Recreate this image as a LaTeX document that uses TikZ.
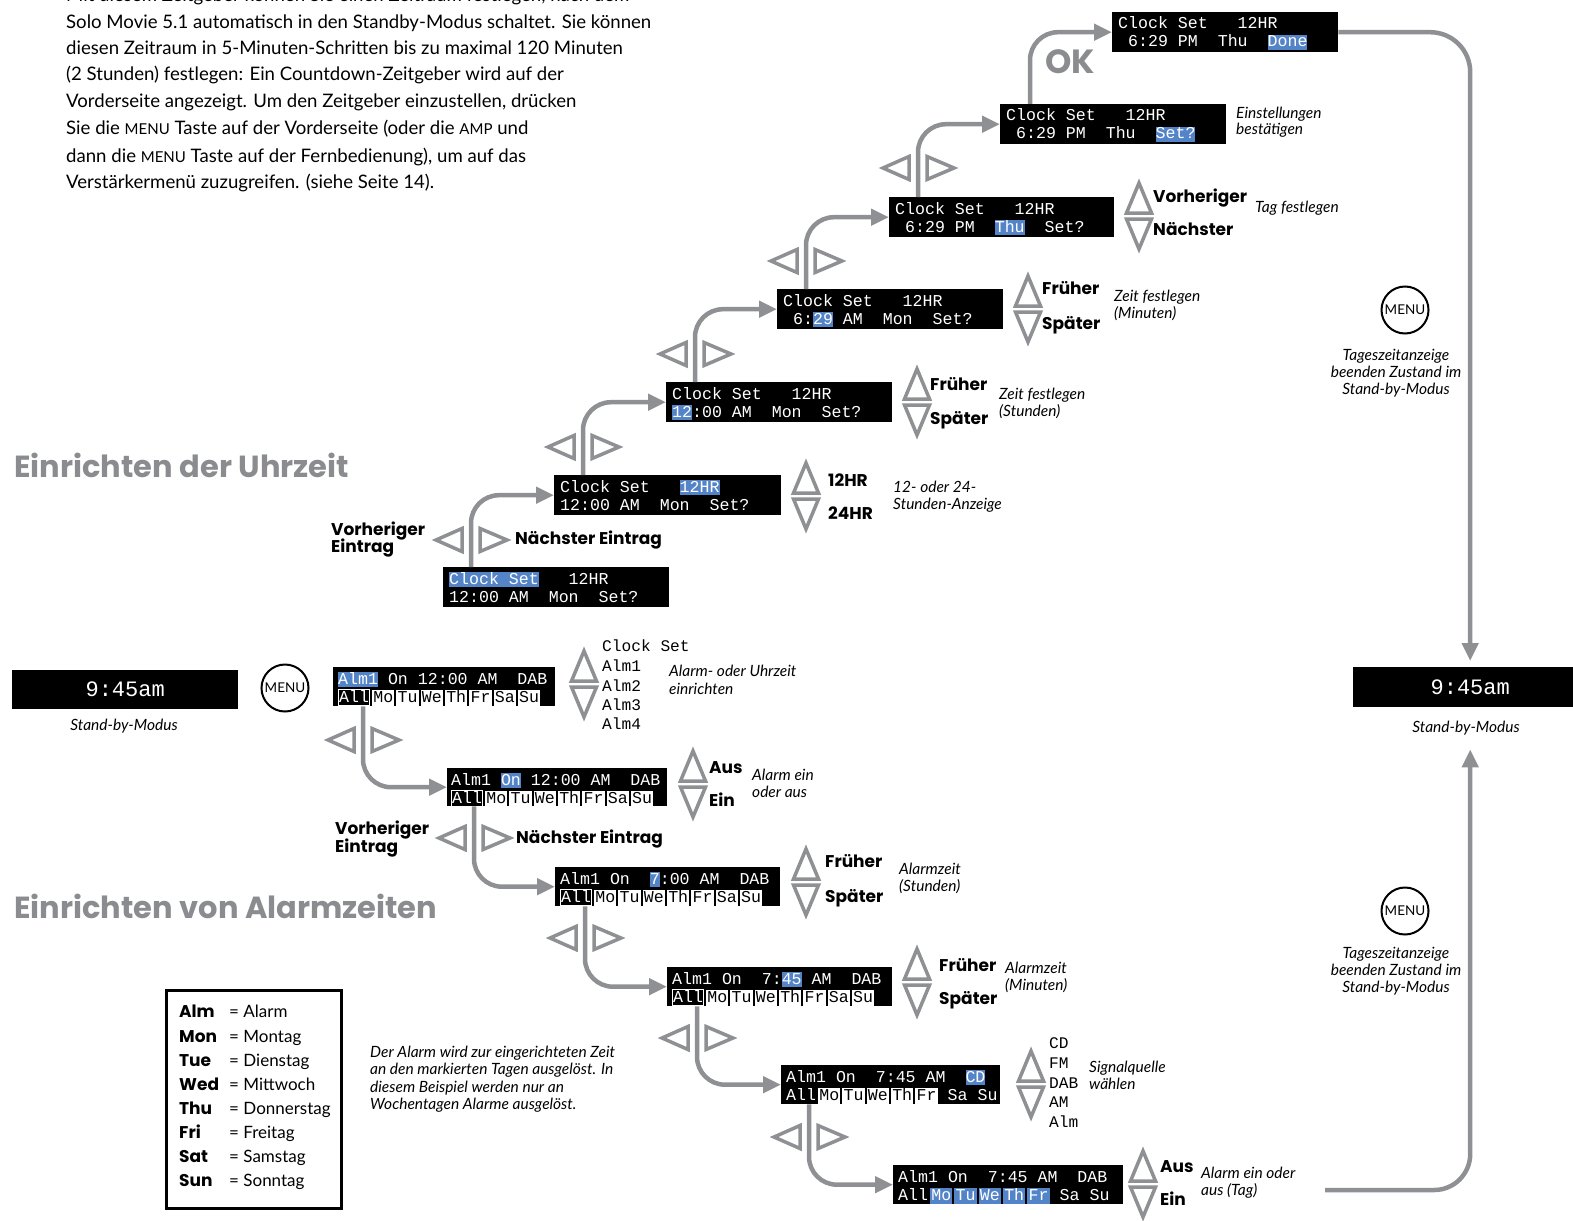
\documentclass[tikz,border=0pt]{standalone}
\usepackage{fontspec}
\setmainfont{Lato}
\newfontfamily\dispfont{Liberation Mono}
\newfontfamily\heavyfont{Poppins}
\usetikzlibrary{arrows.meta,calc}
\definecolor{lgray}{RGB}{142,144,147}
\definecolor{hgray}{RGB}{138,140,143}
\definecolor{hlblue}{RGB}{84,132,200}
\newcommand\dhl[1]{{\setlength\fboxsep{0pt}\colorbox{hlblue}{\rule[-3pt]{0pt}{15pt}#1}}}
\newcommand\dwc[1]{\hspace{2pt}{\setlength\fboxsep{0pt}\colorbox{white}{\rule[-3.5pt]{0pt}{16pt}\hspace{1.2pt}\textcolor{black}{#1}\hspace{1.2pt}}}}
\newcommand\dbc[1]{\hspace{2pt}{\setlength\fboxsep{0pt}\colorbox{hlblue}{\rule[-3.5pt]{0pt}{16pt}\hspace{1.2pt}#1\hspace{1.2pt}}}}
\newcommand\dall{{\setlength\fboxsep{0pt}\setlength\fboxrule{1pt}\fcolorbox{white}{black}{\rule[-2.5pt]{0pt}{14.5pt}All}}}
\newcommand\lrpair[2]{%
 \draw[tri] (#1-35,#2) -- (#1-9,#2-11.5) -- (#1-9,#2+11.5) -- cycle;
 \draw[tri] (#1+36,#2) -- (#1+9,#2-11.5) -- (#1+9,#2+11.5) -- cycle;}
\newcommand\udpair[2]{%
 \draw[tri] (#1,#2-32) -- (#1+12.5,#2-2) -- (#1-12.5,#2-2) -- cycle;
 \draw[tri] (#1,#2+34) -- (#1+12.5,#2+4) -- (#1-12.5,#2+4) -- cycle;}
\tikzset{
 disp/.style={fill=black, draw=none, inner sep=0pt, anchor=north west, minimum height=40pt},
 mono/.style={font=\dispfont\fontsize{16.6}{19}\selectfont, text=white, anchor=base west, inner sep=0pt},
 monob/.style={font=\dispfont\fontsize{16.2}{19}\selectfont, text=black, anchor=base west, inner sep=0pt},
 big/.style={font=\dispfont\fontsize{22}{26}\selectfont, text=white, inner sep=0pt},
 conn/.style={draw=lgray, line width=4.5pt, rounded corners=28pt, -{Triangle[length=18pt,width=16pt]}},
 tri/.style={draw=lgray, line width=3.5pt, line join=miter},
 lbl/.style={font=\heavyfont\fontsize{17}{20}\selectfont\bfseries, anchor=base west, inner sep=0pt},
 itl/.style={font=\fontsize{15.5}{18}\selectfont\itshape, anchor=base west, inner sep=0pt},
 itc/.style={font=\fontsize{15.5}{18}\selectfont\itshape, anchor=base, inner sep=0pt},
 body/.style={font=\fontsize{18.6}{20}\selectfont, anchor=base west, inner sep=0pt},
 leg/.style={font=\fontsize{17}{20}\selectfont, anchor=base west, inner sep=0pt},
 legb/.style={font=\heavyfont\fontsize{17}{20}\selectfont\bfseries, anchor=base west, inner sep=0pt},
 head/.style={font=\heavyfont\fontsize{30.5}{34}\selectfont\bfseries, text=hgray, anchor=base west, inner sep=0pt},
 menu/.style={circle, draw, line width=2pt, minimum size=47pt, inner sep=0pt, font=\fontsize{13.5}{14}\selectfont},
}
\newcommand\dtext[4]{%
 \node[mono] (#1l1) at ($(#1.north west)+(#4,17)$) {#2};
 \node[mono] (#1l2) at ($(#1.north west)+(#4,35)$) {#3};}
\begin{document}
\begin{tikzpicture}[x=1pt,y=-1pt]
\useasboundingbox (0,0) rectangle (1573,1220);

% top paragraph
\node[body] (p0) at (66,2) {Mit diesem Zeitgeber können Sie einen Zeitraum festlegen, nach dem};
\node[body] (p1) at (66,29) {Solo Movie 5.1 automatisch in den Standby-Modus schaltet. Sie können};
\node[body] (p2) at (66,55) {diesen Zeitraum in 5-Minuten-Schritten bis zu maximal 120 Minuten};
\node[body] (p3) at (66,81) {(2 Stunden) festlegen: Ein Countdown-Zeitgeber wird auf der};
\node[body] (p4) at (66,108) {Vorderseite angezeigt. Um den Zeitgeber einzustellen, drücken};
\node[body] (p5) at (66,135) {Sie die {\fontsize{15}{16}\selectfont MENU} Taste auf der Vorderseite (oder die {\fontsize{15}{16}\selectfont AMP} und};
\node[body] (p6) at (66,162) {dann die {\fontsize{15}{16}\selectfont MENU} Taste auf der Fernbedienung), um auf das};
\node[body] (p7) at (66,188) {Verstärkermenü zuzugreifen. (siehe Seite 14).};

% headings
\node[head] (H1) at (14,477) {Einrichten der Uhrzeit};
\node[head] (H2) at (14,918) {Einrichten von Alarmzeiten};

% clock displays
\node[disp,minimum width=226pt] (D1) at (443,567) {};
\node[disp,minimum width=227pt] (D2) at (554,475) {};
\node[disp,minimum width=226pt] (D3) at (666,382) {};
\node[disp,minimum width=226pt] (D4) at (777,289) {};
\node[disp,minimum width=225pt] (D5) at (889,197) {};
\node[disp,minimum width=226pt] (D6) at (1000,104) {};
\node[disp,minimum width=226pt] (D7) at (1112,12) {};
\dtext{D1}{\dhl{Clock~Set}~~~12HR}{12:00~AM~~Mon~~Set?}{6}
\dtext{D2}{Clock~Set~~~\dhl{12HR}}{12:00~AM~~Mon~~Set?}{6}
\dtext{D3}{Clock~Set~~~12HR}{\dhl{12}:00~AM~~Mon~~Set?}{6}
\dtext{D4}{Clock~Set~~~12HR}{~6:\dhl{29}~AM~~Mon~~Set?}{6}
\dtext{D5}{Clock~Set~~~12HR}{~6:29~PM~~\dhl{Thu}~~Set?}{6}
\dtext{D6}{Clock~Set~~~12HR}{~6:29~PM~~Thu~~\dhl{Set?}}{6}
\dtext{D7}{Clock~Set~~~12HR}{~6:29~PM~~Thu~~\dhl{Done}}{6}

% alarm displays
\node[disp,minimum width=222pt,minimum height=39pt] (A1) at (333,667) {};
\node[disp,minimum width=220pt,minimum height=38pt] (A2) at (447,768) {};
\node[disp,minimum width=225pt,minimum height=39pt] (A3) at (555,867) {};
\node[disp,minimum width=225pt,minimum height=39pt] (A4) at (667,967) {};
\node[disp,minimum width=219pt,minimum height=39pt] (A5) at (781,1065) {};
\node[disp,minimum width=230pt,minimum height=39pt] (A6) at (893,1165) {};
\dtext{A1}{\dhl{Alm1}~On~12:00~AM~~DAB}{\dall\dwc{Mo}\dwc{Tu}\dwc{We}\dwc{Th}\dwc{Fr}\dwc{Sa}\dwc{Su}}{5}
\dtext{A2}{Alm1~\dhl{On}~12:00~AM~~DAB}{\dall\dwc{Mo}\dwc{Tu}\dwc{We}\dwc{Th}\dwc{Fr}\dwc{Sa}\dwc{Su}}{4}
\dtext{A3}{Alm1~On~~\dhl{7}:00~AM~~DAB}{\dall\dwc{Mo}\dwc{Tu}\dwc{We}\dwc{Th}\dwc{Fr}\dwc{Sa}\dwc{Su}}{5}
\dtext{A4}{Alm1~On~~7:\dhl{45}~AM~~DAB}{\dall\dwc{Mo}\dwc{Tu}\dwc{We}\dwc{Th}\dwc{Fr}\dwc{Sa}\dwc{Su}}{5}
\dtext{A5}{Alm1~On~~7:45~AM~~\dhl{CD}}{All\dwc{Mo}\dwc{Tu}\dwc{We}\dwc{Th}\dwc{Fr}~Sa~Su}{5}
\dtext{A6}{Alm1~On~~7:45~AM~~DAB}{All\dbc{Mo}\dbc{Tu}\dbc{We}\dbc{Th}\dbc{Fr}~Sa~Su}{5}

% standby displays
\node[disp,minimum width=226pt,minimum height=39pt] (S1) at (12,670) {};
\node[disp,minimum width=234pt,minimum height=40pt] (S2) at (1353,667) {};
\node[big] (S1t) at (S1.center) {9:45am};
\node[big] (S2t) at (S2.center) {9:45am};
\node[itc] (S1c) at (124,730) {Stand-by-Modus};
\node[itc] (S2c) at (1466,732) {Stand-by-Modus};

% menu buttons
\node[menu] (M1) at (285,688) {MENU};
\node[menu] (M2) at (1405,310) {MENU};
\node[menu] (M3) at (1405,911) {MENU};
\node[itc] (M2a) at (1396,360) {Tageszeitanzeige};
\node[itc] (M2b) at (1396,377) {beenden Zustand im};
\node[itc] (M2c) at (1396,394) {Stand-by-Modus};
\node[itc] (M3a) at (1396,958) {Tageszeitanzeige};
\node[itc] (M3b) at (1396,975) {beenden Zustand im};
\node[itc] (M3c) at (1396,992) {Stand-by-Modus};

% connectors clock chain
\coordinate (D1t) at ($(D1.north west)+(28,0)$);
\coordinate (D2t) at ($(D2.north west)+(29,0)$);
\coordinate (D3t) at ($(D3.north west)+(29,0)$);
\coordinate (D4t) at ($(D4.north west)+(29,0)$);
\coordinate (D5t) at ($(D5.north west)+(29,0)$);
\coordinate (D6t) at ($(D6.north west)+(30,0)$);
\draw[conn] (D1t) |- (D2.west);
\draw[conn] (D2t) |- (D3.west);
\draw[conn] (D3t) |- (D4.west);
\draw[conn] (D4t) |- (D5.west);
\draw[conn] (D5t) |- (D6.west);
\draw[conn] (D6t) |- (D7.west);
\draw[conn, rounded corners=40pt, shorten >=6pt] (D7.east) -| (S2.north);
\coordinate (BR) at (1325,1190);
\draw[conn, rounded corners=36pt, shorten >=42pt] (BR) -| (S2.south);

% connectors alarm chain
\coordinate (A1b) at ($(A1.south west)+(30,0)$);
\coordinate (A2b) at ($(A2.south west)+(27,0)$);
\coordinate (A3b) at ($(A3.south west)+(30,0)$);
\coordinate (A4b) at ($(A4.south west)+(30,0)$);
\coordinate (A5b) at ($(A5.south west)+(28,0)$);
\draw[conn] (A1b) |- (A2.west);
\draw[conn] (A2b) |- (A3.west);
\draw[conn] (A3b) |- (A4.west);
\draw[conn] (A4b) |- (A5.west);
\draw[conn] (A5b) |- (A6.west);

% left/right triangle pairs
\lrpair{471}{540}
\lrpair{583}{447}
\lrpair{695}{354}
\lrpair{806}{261}
\lrpair{918}{168}
\lrpair{363}{740}
\lrpair{474}{838}
\lrpair{585}{938}
\lrpair{697}{1038}
\lrpair{809}{1137}

% up/down pairs
\udpair{806}{495}
\udpair{917}{401}
\udpair{1028}{308}
\udpair{1139}{215}
\udpair{584}{683}
\udpair{693}{783}
\udpair{806}{881}
\udpair{917}{981}
\udpair{1031}{1083}
\udpair{1143}{1183}

% clock labels
\node[lbl] (L1a) at (331,535) {Vorheriger};
\node[lbl] (L1b) at (331,552) {Eintrag};
\node[lbl] (L1c) at (515,544) {Nächster Eintrag};
\node[lbl] (L2a) at (828,486) {12HR};
\node[lbl] (L2b) at (828,519) {24HR};
\node[itl] (L2c) at (893,492) {12- oder 24-};
\node[itl] (L2d) at (893,509) {Stunden-Anzeige};
\node[lbl] (L3a) at (930,390) {Früher};
\node[lbl] (L3b) at (930,424) {Später};
\node[itl] (L3c) at (999,399) {Zeit festlegen};
\node[itl] (L3d) at (999,416) {(Stunden)};
\node[lbl] (L4a) at (1042,294) {Früher};
\node[lbl] (L4b) at (1042,329) {Später};
\node[itl] (L4c) at (1114,301) {Zeit festlegen};
\node[itl] (L4d) at (1114,318) {(Minuten)};
\node[lbl] (L5a) at (1153,202) {Vorheriger};
\node[lbl] (L5b) at (1153,235) {Nächster};
\node[itl] (L5c) at (1255,212) {Tag festlegen};
\node[itl] (L6a) at (1236,118) {Einstellungen};
\node[itl] (L6b) at (1236,135) {bestätigen};
\node[font=\heavyfont\fontsize{33.5}{36}\selectfont\bfseries, text=hgray, anchor=base west, inner sep=0pt] (OK) at (1045,74) {OK};

% alarm labels
\node[monob] (C1) at (602,651) {Clock~Set};
\node[monob] (C2) at (602,671) {Alm1};
\node[monob] (C3) at (602,691) {Alm2};
\node[monob] (C4) at (602,710) {Alm3};
\node[monob] (C5) at (602,729) {Alm4};
\node[itl] (B1a) at (669,676) {Alarm- oder Uhrzeit};
\node[itl] (B1b) at (669,694) {einrichten};
\node[lbl] (B2a) at (709,773) {Aus};
\node[lbl] (B2b) at (709,806) {Ein};
\node[itl] (B2c) at (752,780) {Alarm ein};
\node[itl] (B2d) at (752,797) {oder aus};
\node[lbl] (B0a) at (335,834) {Vorheriger};
\node[lbl] (B0b) at (335,852) {Eintrag};
\node[lbl] (B0c) at (516,843) {Nächster Eintrag};
\node[lbl] (B3a) at (825,867) {Früher};
\node[lbl] (B3b) at (825,902) {Später};
\node[itl] (B3c) at (899,874) {Alarmzeit};
\node[itl] (B3d) at (899,891) {(Stunden)};
\node[lbl] (B4a) at (939,971) {Früher};
\node[lbl] (B4b) at (939,1004) {Später};
\node[itl] (B4c) at (1005,973) {Alarmzeit};
\node[itl] (B4d) at (1005,990) {(Minuten)};
\node[monob] (E1) at (1049,1048) {CD};
\node[monob] (E2) at (1049,1068) {FM};
\node[monob] (E3) at (1049,1088) {DAB};
\node[monob] (E4) at (1049,1107) {AM};
\node[monob] (E5) at (1049,1127) {Alm};
\node[itl] (B5a) at (1089,1072) {Signalquelle};
\node[itl] (B5b) at (1089,1089) {wählen};
\node[lbl] (B6a) at (1160,1172) {Aus};
\node[lbl] (B6b) at (1160,1205) {Ein};
\node[itl] (B6c) at (1201,1178) {Alarm ein oder};
\node[itl] (B6d) at (1201,1195) {aus (Tag)};

% note
\node[itl] (N1) at (370,1057) {Der Alarm wird zur eingerichteten Zeit};
\node[itl] (N2) at (370,1074) {an den markierten Tagen ausgelöst. In};
\node[itl] (N3) at (370,1092) {diesem Beispiel werden nur an};
\node[itl] (N4) at (370,1109) {Wochentagen Alarme ausgelöst.};

% legend
\node[draw, line width=2.5pt, anchor=north west, minimum width=175pt, minimum height=218pt, inner sep=0pt] (LG) at (165,989) {};
\foreach \ab/\tx/\yy [count=\i] in {Alm/Alarm/1017, Mon/Montag/1042, Tue/Dienstag/1066, Wed/Mittwoch/1090, Thu/Donnerstag/1114, Fri/Freitag/1138, Sat/Samstag/1162, Sun/Sonntag/1186}{
 \node[legb] (LA\i) at (179,\yy) {\ab};
 \node[leg] (LB\i) at (229,\yy) {= \tx};
}
\end{tikzpicture}
\end{document}
